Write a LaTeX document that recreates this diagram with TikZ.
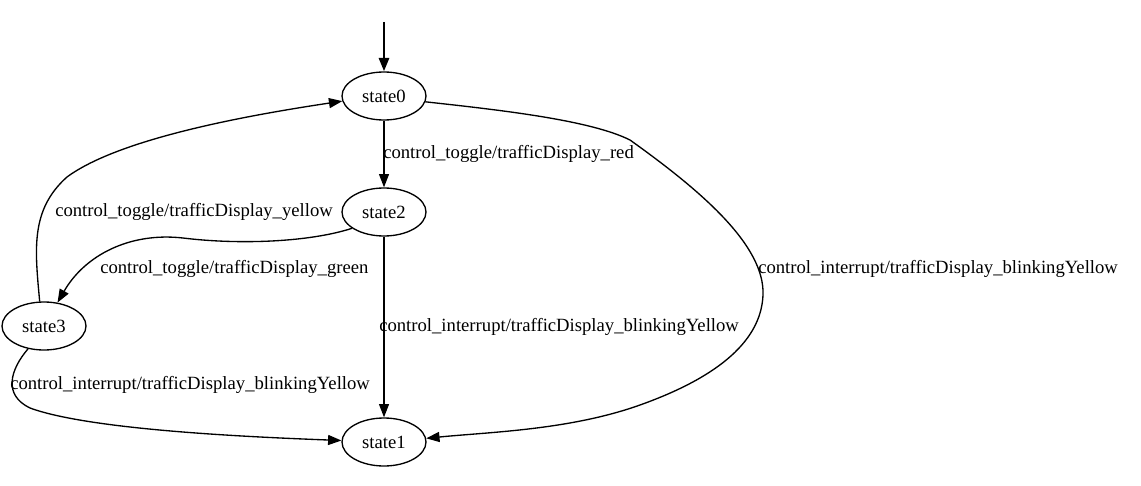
\documentclass[tikz,border=0pt]{standalone}
\usepackage{fontspec}
\setmainfont{Liberation Serif}
\usetikzlibrary{shapes.geometric,arrows.meta}
\begin{document}
\begin{tikzpicture}[x=0.75pt,y=-0.75pt,
        stato/.style={draw,ellipse,line width=1pt,minimum width=63pt,minimum height=36pt,inner sep=0pt,font=\fontsize{14}{16}\selectfont},
        freccia/.style={line width=1pt,-{Triangle[length=10pt,width=7.5pt]}},
        etichetta/.style={anchor=west,inner sep=0pt,font=\fontsize{14}{16}\selectfont}]
        \useasboundingbox[fill=white] (0,0) rectangle (1141,485);

        %%%%%%%%%% Nodi %%%%%%%%%%
        \coordinate (start) at (384,22);
        \node (state0) at (384,96) [stato] {state0};
        \node (state2) at (384,212) [stato] {state2};
        \node (state3) at (44,326) [stato] {state3};
        \node (state1) at (384,442) [stato] {state1};

        %%%%%%%%% Frecce %%%%%%%%%
        \draw[freccia,line width=2pt] (start) -- (state0);
        \draw[freccia] (state0) -- (state2);
        \draw[freccia] (state2) -- (state1);
        \draw[freccia] (state2.207) .. controls (310,242) and (240,245) .. (183,238)
            .. controls (130,232) and (85,255) .. (state3.60);
        \draw[freccia] (state3.100) .. controls (35,250) and (30,210) .. (67,177)
            .. controls (120,138) and (250,115) .. (state0.187);
        \draw[freccia] (state0.-8) .. controls (500,110) and (590,120) .. (630,140)
            .. controls (700,190) and (765,245) .. (763,295)
            .. controls (761,345) and (710,380) .. (640,405)
            .. controls (570,430) and (490,432) .. (state1.5);
        \draw[freccia] (state3.235) .. controls (10,370) and (3,395) .. (30,408)
            .. controls (90,430) and (250,437) .. (state1.178);

        %%%%%%%% Etichette %%%%%%%%
        \node (lblRed) at (383,154) [etichetta] {control\_toggle/trafficDisplay\_red};
        \node (lblYellow) at (55,212) [etichetta] {control\_toggle/trafficDisplay\_yellow};
        \node (lblGreen) at (100,269) [etichetta] {control\_toggle/trafficDisplay\_green};
        \node (lblBlinkA) at (758,269) [etichetta] {control\_interrupt/trafficDisplay\_blinkingYellow};
        \node (lblBlinkB) at (379,327) [etichetta] {control\_interrupt/trafficDisplay\_blinkingYellow};
        \node (lblBlinkC) at (10,385) [etichetta] {control\_interrupt/trafficDisplay\_blinkingYellow};
    \end{tikzpicture}
\end{document}
